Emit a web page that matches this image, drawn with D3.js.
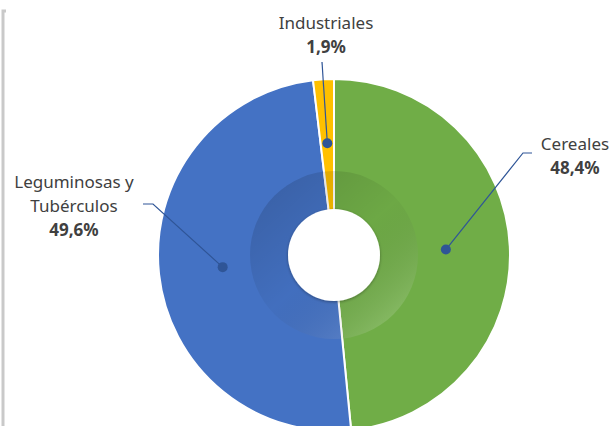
<!DOCTYPE html>
<html>
<head>
<meta charset="utf-8">
<script src="https://cdn.jsdelivr.net/npm/d3@7"></script>
<style>
  body { margin: 0; background: #fff; }
  svg { display: block; }
</style>
</head>
<body>
<script>
// datos del grafico
var categorias = ["Cereales", "Leguminosas y Tubérculos", "Industriales"];
var valores = [48.4, 49.6, 1.9];
var etiquetas = ["48,4%", "49,6%", "1,9%"];
var colores = ["#70AD47", "#4472C4", "#FFC000"];

var w = 613, h = 426;
var cx = 334, cy = 255;
var R = 176, hueco = 46, anillo = 84;

var svg = d3.select("body").append("svg")
    .attr("width", w)
    .attr("height", h);

var defs = svg.append("defs");

var grad = defs.append("linearGradient")
    .attr("id", "sombra")
    .attr("x1", "0.15").attr("y1", "0.1")
    .attr("x2", "0.85").attr("y2", "0.9");
grad.append("stop").attr("offset", "0").attr("stop-color", "#000").attr("stop-opacity", 0.14);
grad.append("stop").attr("offset", "0.5").attr("stop-color", "#000").attr("stop-opacity", 0.03);
grad.append("stop").attr("offset", "1").attr("stop-color", "#fff").attr("stop-opacity", 0.16);

var blur = defs.append("filter").attr("id", "halo")
    .attr("x", "-20%").attr("y", "-20%").attr("width", "140%").attr("height", "140%");
blur.append("feDropShadow")
    .attr("dx", 0).attr("dy", 1)
    .attr("stdDeviation", 1.5)
    .attr("flood-color", "#000")
    .attr("flood-opacity", 0.35);

// marco del area
svg.append("path")
    .attr("d", "M6,11 H3 V426")
    .attr("fill", "none")
    .attr("stroke", "#c9c9c9")
    .attr("stroke-width", 3);

var pie = d3.pie().sort(null).value(function(d){ return d; });
var arcos = pie(valores);

var arc = d3.arc().innerRadius(0).outerRadius(R);
var arcEtiqueta = d3.arc().innerRadius(112).outerRadius(112);

var g = svg.append("g").attr("transform", "translate(" + cx + "," + cy + ")");

g.selectAll("path.slice")
    .data(arcos)
    .enter()
    .append("path")
    .attr("class", "slice")
    .attr("d", arc)
    .attr("fill", function(d, i){ return colores[i]; })
    .attr("stroke", "#fff")
    .attr("stroke-width", 2)
    .attr("stroke-linejoin", "round");

// anillo sombreado interior
g.append("circle")
    .attr("r", anillo)
    .attr("fill", "url(#sombra)");

// hueco central
g.append("circle")
    .attr("r", hueco)
    .attr("fill", "#fff")
    .attr("filter", "url(#halo)");

// lineas guia y etiquetas
var guias = [
    {codo: [523, 153], fin: [532, 153], tx: 575, ty: 150},
    {codo: [153, 204], fin: [143, 204], tx: 74, ty: 188},
    {codo: [322, 62], fin: [322, 62], tx: 326, ty: 29}
];
var lineasTexto = [["Cereales"], ["Leguminosas y", "Tubérculos"], ["Industriales"]];

arcos.forEach(function(d, i){
    var c = arcEtiqueta.centroid(d);
    var px = cx + c[0], py = cy + c[1];
    var gu = guias[i];
    svg.append("polyline")
        .attr("points", [[px, py], gu.codo, gu.fin].map(function(p){ return p.join(","); }).join(" "))
        .attr("fill", "none")
        .attr("stroke", "#2F5597")
        .attr("stroke-width", 1.2);
    svg.append("circle")
        .attr("cx", px).attr("cy", py)
        .attr("r", 5)
        .attr("fill", "#2F5597");

    var t = svg.append("text")
        .attr("x", gu.tx)
        .attr("y", gu.ty)
        .attr("text-anchor", "middle")
        .attr("font-family", "Noto Sans, sans-serif")
        .attr("font-size", 17)
        .attr("fill", "#404040");
    lineasTexto[i].forEach(function(l, j){
        t.append("tspan").attr("x", gu.tx).attr("dy", j === 0 ? 0 : 24).text(l);
    });
    t.append("tspan")
        .attr("x", gu.tx)
        .attr("dy", 24)
        .attr("font-weight", "bold")
        .text(etiquetas[i]);
});
</script>
</body>
</html>
